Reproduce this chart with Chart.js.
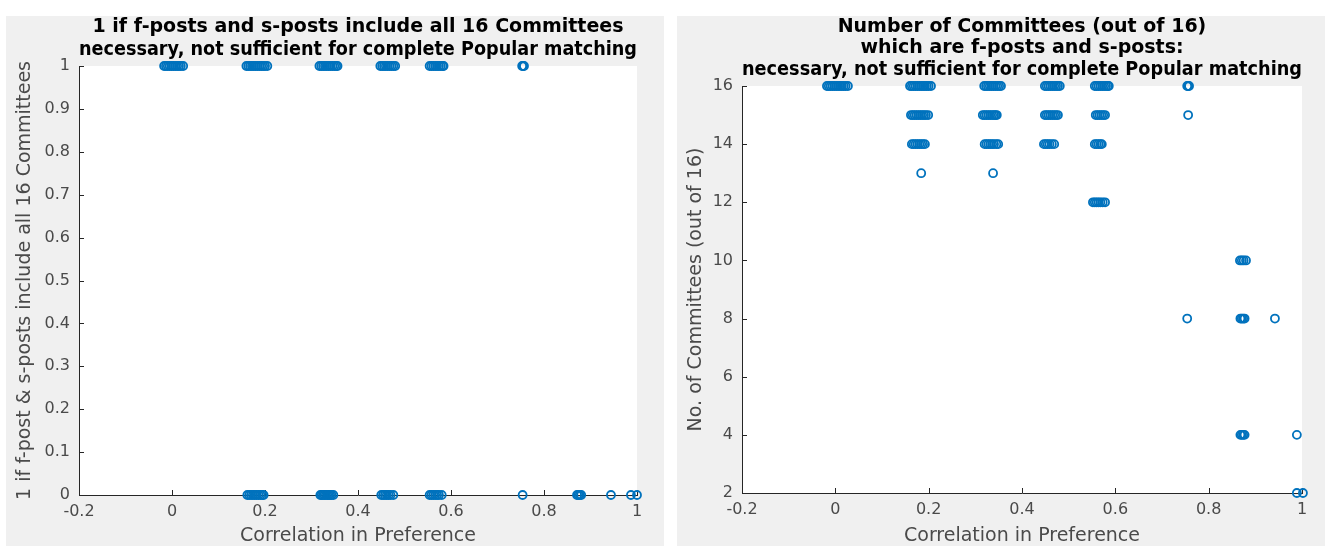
<!DOCTYPE html>
<html>
<head>
<meta charset="utf-8">
<script src="https://cdn.jsdelivr.net/npm/chart.js@4.4.0/dist/chart.umd.min.js"></script>
<style>
  body { margin: 0; background: #fff; width: 1325px; height: 546px; overflow: hidden; position: relative; }
  .panel { position: absolute; top: 16px; height: 530px; background: #f0f0f0; }
  #leftPanel { left: 6px; width: 658px; }
  #rightPanel { left: 677px; width: 648px; }
  canvas { display: block; }
</style>
</head>
<body>
<div class="panel" id="leftPanel"><canvas id="leftChart" width="658" height="530"></canvas></div>
<div class="panel" id="rightPanel"><canvas id="rightChart" width="648" height="530"></canvas></div>
<script>
// Left chart: 1 if all 16 committees are f-posts and s-posts, else 0
const corrAllIncluded = [
  -0.017, -0.013, -0.009, -0.005, -0.001, 0.003, 0.007, 0.011, 0.015, 0.019, 0.024,
  0.16, 0.164, 0.168, 0.172, 0.176, 0.18, 0.184, 0.188, 0.192, 0.196, 0.2, 0.205,
  0.317, 0.321, 0.325, 0.329, 0.333, 0.337, 0.341, 0.345, 0.349, 0.353, 0.356,
  0.448, 0.452, 0.456, 0.46, 0.464, 0.468, 0.472, 0.476, 0.48,
  0.554, 0.558, 0.562, 0.566, 0.57, 0.574, 0.578, 0.582, 0.584,
  0.753, 0.755, 0.757
];
const corrNotIncluded = [
  0.162, 0.166, 0.17, 0.174, 0.178, 0.182, 0.186, 0.19, 0.194, 0.197,
  0.319, 0.322, 0.325, 0.328, 0.331, 0.334, 0.337, 0.34, 0.343, 0.347,
  0.45, 0.454, 0.458, 0.462, 0.466, 0.47, 0.476,
  0.554, 0.558, 0.562, 0.566, 0.57, 0.574, 0.58,
  0.754,
  0.871, 0.874, 0.877, 0.88,
  0.944,
  0.987, 1.0
];

// Right chart: number of committees (out of 16) -> correlations observed
const committeeCounts = [16, 15, 14, 13, 12, 10, 8, 4, 2];
const corr16 = [-0.018, -0.014, -0.01, -0.006, -0.002, 0.002, 0.006, 0.01, 0.014, 0.018, 0.022, 0.027,
  0.16, 0.164, 0.168, 0.172, 0.176, 0.18, 0.184, 0.188, 0.192, 0.196, 0.2, 0.205,
  0.319, 0.323, 0.327, 0.331, 0.335, 0.339, 0.343, 0.347, 0.351, 0.355,
  0.449, 0.453, 0.457, 0.461, 0.465, 0.469, 0.473, 0.477, 0.481,
  0.556, 0.56, 0.564, 0.568, 0.572, 0.576, 0.58, 0.584, 0.586,
  0.754, 0.756, 0.758];
const corr15 = [0.162, 0.166, 0.17, 0.174, 0.178, 0.182, 0.186, 0.19, 0.194, 0.199,
  0.316, 0.32, 0.324, 0.328, 0.332, 0.336, 0.34, 0.343, 0.346,
  0.449, 0.453, 0.457, 0.461, 0.465, 0.469, 0.473, 0.477,
  0.558, 0.562, 0.566, 0.57, 0.574, 0.578,
  0.756];
const corr14 = [0.164, 0.168, 0.172, 0.176, 0.18, 0.184, 0.188, 0.192,
  0.32, 0.324, 0.328, 0.332, 0.336, 0.34, 0.345, 0.349,
  0.447, 0.451, 0.455, 0.459, 0.464, 0.469,
  0.556, 0.56, 0.564, 0.568, 0.571];
const corr13 = [0.184, 0.338];
const corr12 = [0.552, 0.556, 0.56, 0.564, 0.568, 0.573, 0.578];
const corr10 = [0.867, 0.871, 0.875, 0.88];
const corr8 = [0.754, 0.868, 0.871, 0.874, 0.877, 0.942];
const corr4 = [0.868, 0.871, 0.874, 0.877, 0.989];
const corr2 = [0.989, 1.002];
const corrByCount = [corr16, corr15, corr14, corr13, corr12, corr10, corr8, corr4, corr2];

const xTicks = [-0.2, 0, 0.2, 0.4, 0.6, 0.8, 1];

const leftPoints = corrAllIncluded.map(x => ({ x, y: 1 }))
  .concat(corrNotIncluded.map(x => ({ x, y: 0 })));
const rightPoints = [];
committeeCounts.forEach((n, i) => {
  corrByCount[i].forEach(x => rightPoints.push({ x, y: n }));
});

const FONT = "'DejaVu Sans', sans-serif";
const AXIS = "#262626";
const TEXT = "#4a4a4a";
const BLUE = "#0072BD";

// white plot box + MATLAB-style inward ticks
const plotBox = {
  id: "plotBox",
  beforeDraw(chart) {
    const { ctx, chartArea: a } = chart;
    ctx.save();
    ctx.fillStyle = "#fff";
    ctx.fillRect(a.left, a.top, a.right - a.left, a.bottom - a.top);
    ctx.restore();
  },
  beforeDatasetsDraw(chart) {
    const { ctx, chartArea: a, scales } = chart;
    ctx.save();
    ctx.strokeStyle = AXIS;
    ctx.lineWidth = 1;
    ctx.beginPath();
    scales.x.ticks.forEach(t => {
      const px = Math.round(scales.x.getPixelForValue(t.value)) + 0.5;
      ctx.moveTo(px, a.bottom);
      ctx.lineTo(px, a.bottom - 5);
    });
    scales.y.ticks.forEach(t => {
      const py = Math.round(scales.y.getPixelForValue(t.value)) + 0.5;
      ctx.moveTo(a.left, py);
      ctx.lineTo(a.left + 5, py);
    });
    ctx.stroke();
    ctx.restore();
  }
};

function makeChart(id, points, cfg) {
  return new Chart(document.getElementById(id), {
    type: "scatter",
    data: {
      datasets: [{
        data: points,
        borderColor: BLUE,
        backgroundColor: "rgba(0,0,0,0)",
        borderWidth: 1.8,
        pointRadius: 4,
        pointStyle: "circle",
        clip: false
      }]
    },
    options: {
      responsive: false,
      animation: false,
      layout: { padding: { right: cfg.padRight, top: 0, left: 0, bottom: 0 } },
      plugins: {
        legend: { display: false },
        tooltip: { enabled: false },
        title: {
          display: true,
          fullSize: false,
          text: cfg.title,
          color: "#000",
          font: { family: FONT, size: 19, weight: "bold", lineHeight: cfg.titleLine / 19 },
          padding: { top: 0, bottom: cfg.titleGap }
        }
      },
      scales: {
        x: {
          type: "linear",
          min: -0.2,
          max: 1,
          afterBuildTicks: s => { s.ticks = xTicks.map(v => ({ value: v })); },
          afterFit: s => { s.height = cfg.xHeight; },
          grid: { display: false, drawTicks: false },
          border: { display: true, color: AXIS, width: 1 },
          ticks: {
            padding: 7,
            color: TEXT,
            font: { family: FONT, size: 16 },
            callback: v => String(Math.round(v * 10) / 10)
          },
          title: {
            display: true,
            text: "Correlation in Preference",
            color: TEXT,
            font: { family: FONT, size: 19, lineHeight: 1 },
            padding: { top: 0, bottom: 0 }
          }
        },
        y: {
          type: "linear",
          min: cfg.yMin,
          max: cfg.yMax,
          afterBuildTicks: s => { s.ticks = cfg.yTicks.map(v => ({ value: v })); },
          afterFit: s => { s.width = cfg.yWidth; },
          grid: { display: false, drawTicks: false },
          border: { display: true, color: AXIS, width: 1 },
          ticks: {
            padding: 9,
            color: TEXT,
            font: { family: FONT, size: 16 },
            callback: v => String(Math.round(v * 10) / 10)
          },
          title: {
            display: true,
            text: cfg.yTitle,
            color: TEXT,
            font: { family: FONT, size: 19, lineHeight: 1.2 },
            padding: { top: 8, bottom: 0 }
          }
        }
      }
    },
    plugins: [plotBox]
  });
}

makeChart("leftChart", leftPoints, {
  title: ["1 if f-posts and s-posts include all 16 Committees",
          "necessary, not sufficient for complete Popular matching"],
  titleLine: 23,
  titleGap: 4,
  padRight: 27,
  xHeight: 51,
  yWidth: 73,
  yMin: 0,
  yMax: 1,
  yTicks: [0, 0.1, 0.2, 0.3, 0.4, 0.5, 0.6, 0.7, 0.8, 0.9, 1],
  yTitle: "1 if f-post & s-posts include all 16 Committees"
});

makeChart("rightChart", rightPoints, {
  title: ["Number of Committees (out of 16)",
          "which are f-posts and s-posts:",
          "necessary, not sufficient for complete Popular matching"],
  titleLine: 21.5,
  titleGap: 5.5,
  padRight: 23,
  xHeight: 53,
  yWidth: 65,
  yMin: 2,
  yMax: 16,
  yTicks: [2, 4, 6, 8, 10, 12, 14, 16],
  yTitle: "No. of Committees (out of 16)"
});
</script>
</body>
</html>
